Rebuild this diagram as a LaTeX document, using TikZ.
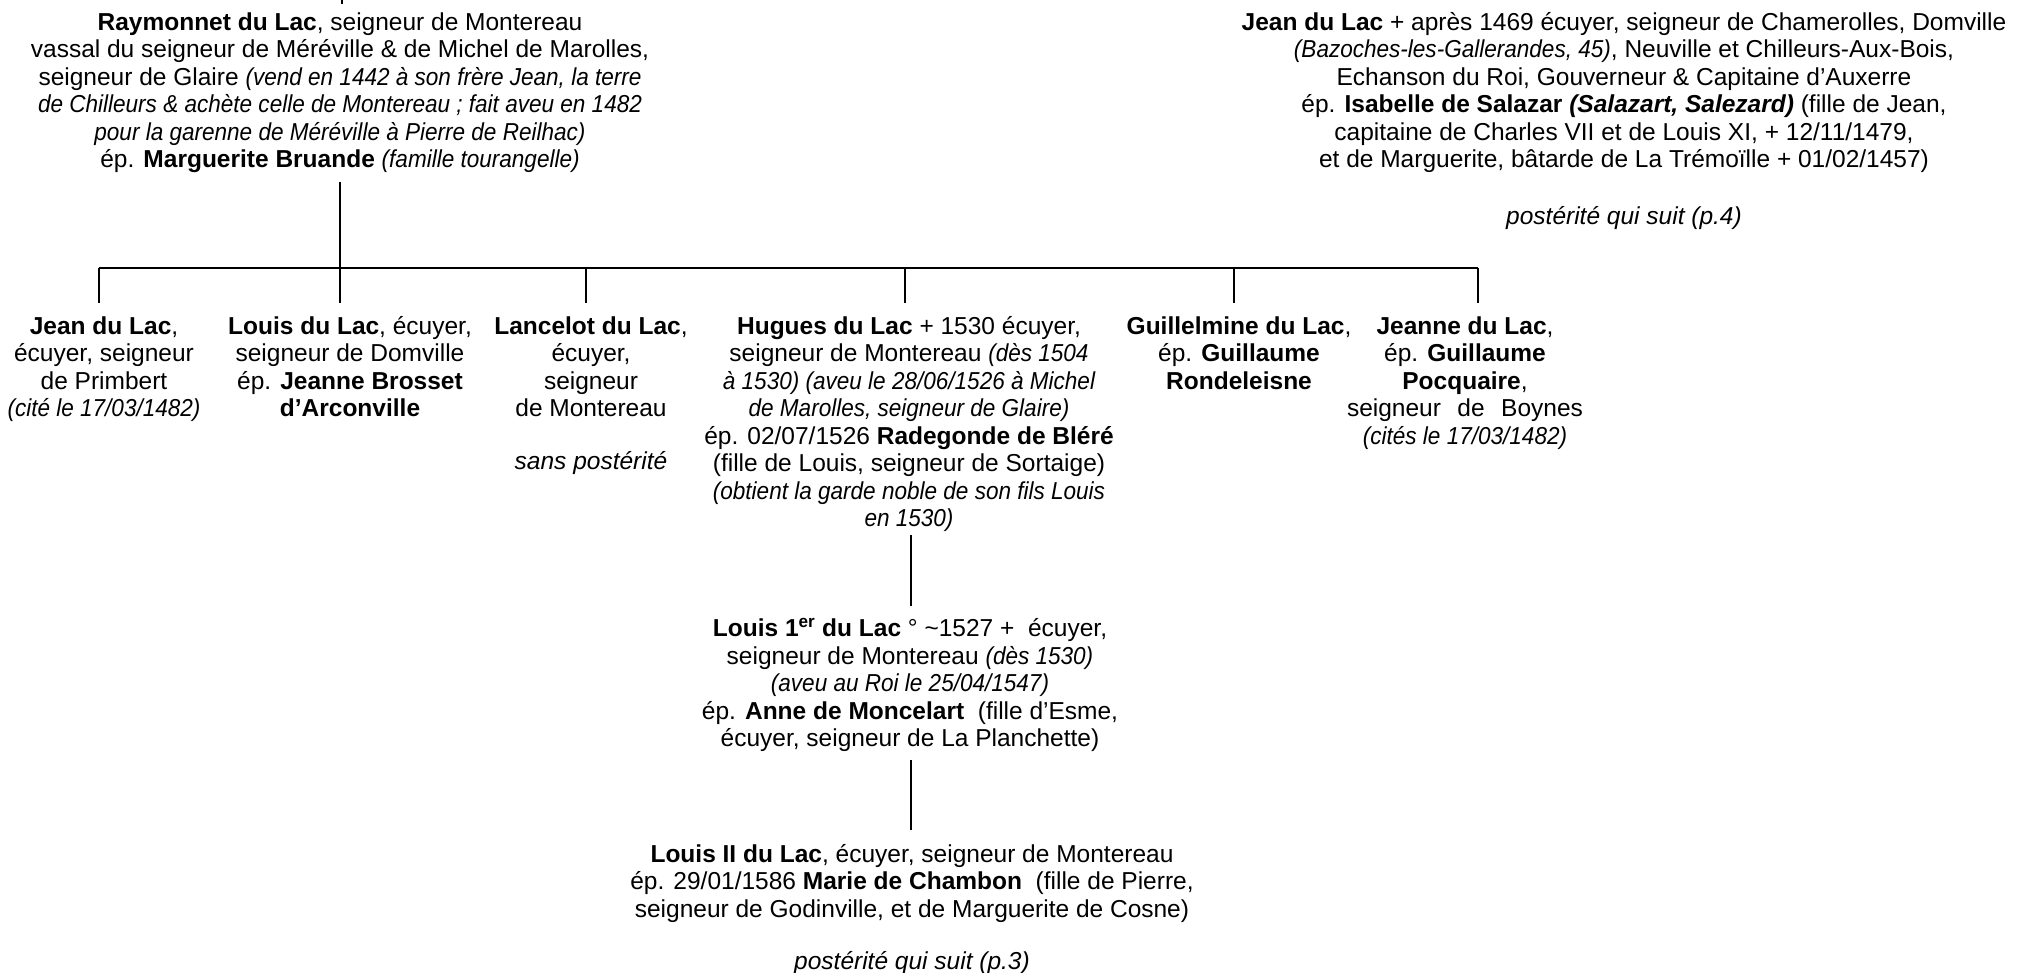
\documentclass[tikz,border=0pt]{standalone}
\usepackage{fontspec}
\setmainfont{Liberation Sans}
\newfontfamily\narrowfont{Liberation Sans}[FakeStretch=0.92]
\newcommand{\glose}[1]{{\narrowfont\itshape #1}}
\newcommand{\spread}[2]{\makebox[#1pt][s]{#2}}
\begin{document}
\begin{tikzpicture}[x=1pt,y=-1pt,line width=2.8pt,line cap=butt,
  font=\fontsize{24.5}{27.5}\selectfont,
  every node/.style={align=center,inner sep=0pt,anchor=north,
    execute at begin node={\rule{0pt}{19pt}}}]
\useasboundingbox (0,0) rectangle (2019,973);
\def\bary{268}\def\dropy{303}
% parents
\node (ray) at (340,11) {\textbf{Raymonnet du Lac}, seigneur de Montereau\\
  vassal du seigneur de Méréville \& de Michel de Marolles,\\
  seigneur de Glaire \glose{(vend en 1442 à son frère Jean, la terre}\\
  \glose{de Chilleurs \& achète celle de Montereau ; fait aveu en 1482}\\
  \glose{pour la garenne de Méréville à Pierre de Reilhac)}\\
  ép. \textbf{Marguerite Bruande} \glose{(famille tourangelle)}};
\node (jean) at (1624,11) {\textbf{Jean du Lac} + après 1469 écuyer, seigneur de Chamerolles, Domville\\
  \glose{(Bazoches-les-Gallerandes, 45)}, Neuville et Chilleurs-Aux-Bois,\\
  Echanson du Roi, Gouverneur \& Capitaine d’Auxerre\\
  ép. \textbf{Isabelle de Salazar \textit{(Salazart, Salezard)}} (fille de Jean,\\
  capitaine de Charles VII et de Louis XI, + 12/11/1479,\\
  et de Marguerite, bâtarde de La Trémoïlle + 01/02/1457)};
\node (jeanpost) at (1624,204) {\itshape postérité qui suit (p.4)};
% children
\node (c1) at (104,315) {\textbf{Jean du Lac},\\ écuyer, seigneur\\ de Primbert\\ \glose{(cité le 17/03/1482)}};
\node (c2) at (350,315) {\textbf{Louis du Lac}, écuyer,\\ seigneur de Domville\\ ép. \textbf{Jeanne Brosset}\\ \textbf{d’Arconville}};
\node (c3) at (591,315) {\textbf{Lancelot du Lac},\\ écuyer,\\ seigneur\\ de Montereau};
\node (c3post) at (591,449) {\itshape sans postérité};
\node (c4) at (909,315) {\textbf{Hugues du Lac} + 1530 écuyer,\\
  seigneur de Montereau \glose{(dès 1504}\\
  \glose{à 1530) (aveu le 28/06/1526 à Michel}\\
  \glose{de Marolles, seigneur de Glaire)}\\
  ép. 02/07/1526 \textbf{Radegonde de Bléré}\\
  (fille de Louis, seigneur de Sortaige)\\
  \glose{(obtient la garde noble de son fils Louis}\\
  \glose{en 1530)}};
\node (c5) at (1239,315) {\textbf{Guillelmine du Lac},\\ ép. \textbf{Guillaume}\\ \textbf{Rondeleisne}};
\node (c6) at (1465,315) {\textbf{Jeanne du Lac},\\ ép. \textbf{Guillaume}\\ \textbf{Pocquaire},\\
  \spread{236}{seigneur de Boynes}\\ \glose{(cités le 17/03/1482)}};
% descendants
\node (l1) at (910,617) {\textbf{Louis 1\textsuperscript{er} du Lac} ° \textasciitilde1527 +\ \ écuyer,\\
  seigneur de Montereau \glose{(dès 1530)}\\
  \glose{(aveu au Roi le 25/04/1547)}\\
  ép. \textbf{Anne de Moncelart}\ \ (fille d’Esme,\\
  écuyer, seigneur de La Planchette)};
\node (l2) at (912,843) {\textbf{Louis II du Lac}, écuyer, seigneur de Montereau\\
  ép. 29/01/1586 \textbf{Marie de Chambon}\ \ (fille de Pierre,\\
  seigneur de Godinville, et de Marguerite de Cosne)};
\node (l2post) at (912,949) {\itshape postérité qui suit (p.3)};
% lines
\coordinate (raytop) at (342,0);
\coordinate (rayfoot) at (340,182);
\coordinate (barL) at (99,\bary);
\coordinate (barR) at (1478,\bary);
\draw (raytop) -- ++(0,4);
\draw (rayfoot) -- (rayfoot |- barL);
\draw (barL) -- (barR);
\foreach \n/\x in {1/99,2/340,3/586,4/905,5/1234,6/1478}{
  \coordinate (drop\n) at (\x,\dropy);
  \draw (drop\n |- barL) -- (drop\n);
}
\coordinate (c4foot) at (911,535);
\coordinate (l1top) at (911,606);
\coordinate (l1foot) at (911,760);
\coordinate (l2top) at (911,830);
\draw (c4foot) -- (l1top);
\draw (l1foot) -- (l2top);
\end{tikzpicture}
\end{document}
